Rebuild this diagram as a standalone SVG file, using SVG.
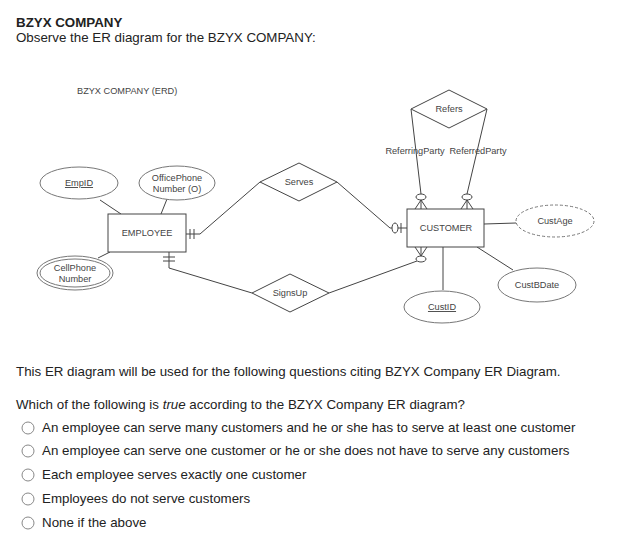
<svg xmlns="http://www.w3.org/2000/svg" width="642" height="556" viewBox="0 0 642 556">
<style>
.t{font-family:"Liberation Sans",Arial,sans-serif;fill:#222;font-size:13.33px}
.d{font-family:"Liberation Sans",Arial,sans-serif;font-size:9.2px;fill:#444;text-anchor:middle}
.ds{font-family:"Liberation Sans",Arial,sans-serif;font-size:9.2px;fill:#444}
.ln{stroke:#444;stroke-width:1;fill:none}
.ent{fill:#fff;stroke:#444;stroke-width:1}
.att{fill:#fff;stroke:#777;stroke-width:1}
.rad{fill:#fff;stroke:#888;stroke-width:1}
</style>
<rect width="642" height="556" fill="#fff"/>
<text class="t" x="16" y="27" font-weight="bold">BZYX COMPANY</text>
<text class="t" x="16" y="42">Observe the ER diagram for the BZYX COMPANY:</text>
<text class="ds" x="77" y="94">BZYX COMPANY (ERD)</text>

<g id="connectors">
<line class="ln" x1="100" y1="200" x2="121" y2="214"/>
<line class="ln" x1="167" y1="199" x2="161" y2="214"/>
<line class="ln" x1="110" y1="252" x2="98" y2="258"/>
<polyline class="ln" points="186,234 200,234 260,182"/>
<line class="ln" x1="190" y1="229" x2="190" y2="239"/>
<line class="ln" x1="194" y1="229" x2="194" y2="239"/>
<polyline class="ln" points="169,252 169,268 252,293"/>
<line class="ln" x1="163" y1="257" x2="175" y2="257"/>
<line class="ln" x1="163" y1="261" x2="175" y2="261"/>
<polyline class="ln" points="337,182 390,228 407,228"/>
<ellipse class="ent" cx="395" cy="228" rx="3" ry="5"/>
<line class="ln" x1="401" y1="223" x2="401" y2="233"/>
<line class="ln" x1="411" y1="109" x2="421" y2="194"/>
<line class="ln" x1="487" y1="109" x2="467" y2="194"/>
<polyline class="ln" points="415,209 421,200 427,209"/>
<line class="ln" x1="421" y1="200" x2="421" y2="209"/>
<ellipse class="ent" cx="421" cy="197" rx="5" ry="3"/>
<polyline class="ln" points="461,209 467,200 473,209"/>
<line class="ln" x1="467" y1="200" x2="467" y2="209"/>
<ellipse class="ent" cx="467" cy="197" rx="5" ry="3"/>
<line class="ln" x1="329" y1="293" x2="417" y2="261"/>
<polyline class="ln" points="415,247 421,256 427,247"/>
<line class="ln" x1="421" y1="247" x2="421" y2="256"/>
<ellipse class="ent" cx="421" cy="259" rx="5" ry="3"/>
<line class="ln" x1="484" y1="224" x2="516" y2="223"/>
<line class="ln" x1="477" y1="247" x2="513" y2="270"/>
<line class="ln" x1="443" y1="247" x2="443" y2="290"/>
</g>

<g id="EmpID"><ellipse class="att" cx="79" cy="183" rx="39" ry="16"/><text class="d" x="79" y="186" text-decoration="underline">EmpID</text></g>
<g id="OfficePhone"><ellipse class="att" cx="177" cy="183" rx="38" ry="17"/><text class="d" x="177" y="181">OfficePhone</text><text class="d" x="177" y="192">Number (O)</text></g>
<g id="CellPhone"><ellipse class="att" cx="75" cy="273" rx="38" ry="17"/><ellipse class="att" cx="75" cy="273" rx="35" ry="14"/><text class="d" x="75" y="271">CellPhone</text><text class="d" x="75" y="282">Number</text></g>
<g id="EMPLOYEE"><rect class="ent" x="108" y="214" width="78" height="38"/><text class="d" x="147" y="236">EMPLOYEE</text></g>
<g id="Serves"><polygon class="ent" points="260,182 299,163 337,182 299,201"/><text class="d" x="299" y="185">Serves</text></g>
<g id="SignsUp"><polygon class="ent" points="252,293 290,274 329,293 290,312"/><text class="d" x="290" y="296">SignsUp</text></g>
<g id="Refers"><polygon class="ent" points="411,109 449,90 487,109 449,128"/><text class="d" x="449" y="112">Refers</text></g>
<text class="d" x="415" y="154">ReferringParty</text>
<text class="d" x="478" y="154">ReferredParty</text>
<g id="CUSTOMER"><rect class="ent" x="407" y="209" width="77" height="38"/><text class="d" x="446" y="231">CUSTOMER</text></g>
<g id="CustAge"><ellipse class="att" cx="555" cy="221" rx="39" ry="16" stroke-dasharray="3,2"/><text class="d" x="555" y="224">CustAge</text></g>
<g id="CustBDate"><ellipse class="att" cx="537" cy="285" rx="39" ry="17"/><text class="d" x="537" y="288">CustBDate</text></g>
<g id="CustID"><ellipse class="att" cx="442" cy="307" rx="38" ry="16"/><text class="d" x="442" y="310" text-decoration="underline">CustID</text></g>

<text class="t" x="16" y="376">This ER diagram will be used for the following questions citing BZYX Company ER Diagram.</text>
<text class="t" x="16" y="409">Which of the following is <tspan font-style="italic">true</tspan> according to the BZYX Company ER diagram?</text>
<circle class="rad" cx="28" cy="428" r="6"/>
<text class="t" x="42" y="432">An employee can serve many customers and he or she has to serve at least one customer</text>
<circle class="rad" cx="28" cy="451" r="6"/>
<text class="t" x="42" y="455">An employee can serve one customer or he or she does not have to serve any customers</text>
<circle class="rad" cx="28" cy="475" r="6"/>
<text class="t" x="42" y="479">Each employee serves exactly one customer</text>
<circle class="rad" cx="28" cy="499" r="6"/>
<text class="t" x="42" y="503">Employees do not serve customers</text>
<circle class="rad" cx="28" cy="523" r="6"/>
<text class="t" x="42" y="527">None if the above</text>
</svg>
